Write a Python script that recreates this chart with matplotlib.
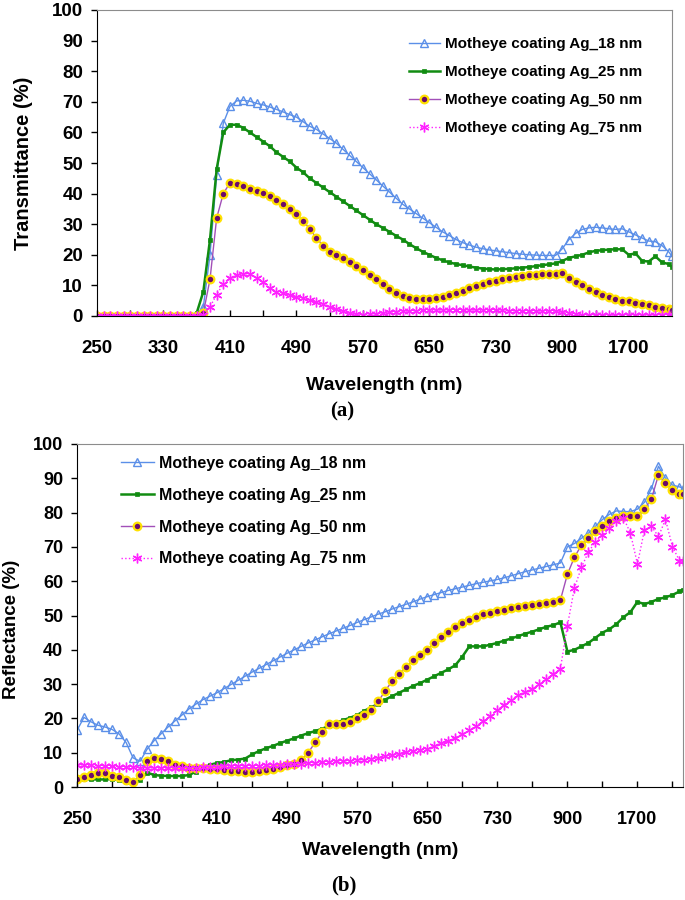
import numpy as np
import matplotlib
matplotlib.use("Agg")
import matplotlib.pyplot as plt

plt.rcParams['font.family'] = ['Liberation Sans', 'DejaVu Sans']

# ---------------- data ----------------
wavelength = np.concatenate([np.arange(250, 731, 8), np.arange(747, 901, 17),
                             np.arange(980, 1701, 80), [1780, 1860, 1940, 2020, 2100, 2180, 2220]])

labels = ["Motheye coating Ag_18 nm", "Motheye coating Ag_25 nm",
          "Motheye coating Ag_50 nm", "Motheye coating Ag_75 nm"]

trans_18 = [0]*16 + [3, 20, 46, 63, 68.5,
    70.3, 70.5, 70.2, 69.5, 69, 68.3, 67.5, 66.7, 65.8, 65,
    63.5, 62, 61, 59.5, 58, 56.5, 54.5, 52.5, 50.5, 48.5,
    46.5, 44.5, 42.5, 40.5, 38.5, 36.5, 35, 33.5, 32, 30.5,
    29, 27.5, 26.3, 25, 24, 23.2, 22.5, 22, 21.6, 21.3,
    21, 20.7, 20.4, 20.2, 20, 19.9, 19.8, 19.8, 19.8, 22,
    25, 27, 28.3, 28.8, 29, 28.8, 28.5, 28.3, 28.5, 27.5,
    26.5, 25.5, 24.5, 24.3, 23, 21, 19.5]
trans_25 = [0]*15 + [1, 8, 25, 48, 60, 62.5,
    62.5, 61.5, 60, 58.5, 57, 55.5, 53.5, 52, 50.5, 48.5,
    47, 45, 43.5, 42, 40.5, 39, 37.5, 36, 34.5, 33,
    31.5, 30, 28.8, 27.5, 26.2, 25, 23.5, 22.2, 21, 20,
    19, 18.2, 17.5, 17, 16.6, 16.2, 15.8, 15.5, 15.3, 15.2,
    15.3, 15.4, 15.6, 15.8, 16, 16.3, 16.6, 16.9, 17.2, 18,
    19, 19.5, 20, 20.8, 21.3, 21.5, 21.7, 21.8, 21.8, 20,
    20.5, 18, 17.8, 19.5, 17.5, 17, 16]
trans_50 = [0]*16 + [1, 12, 32, 40, 43.5,
    43.3, 42.5, 41.5, 41, 40.3, 39.3, 38, 36.5, 35, 33.3,
    31, 28.5, 25.5, 23, 21, 19.8, 18.8, 17.5, 16.2, 15,
    13.5, 12, 10.3, 8.8, 7.5, 6.5, 5.8, 5.5, 5.4, 5.5,
    5.8, 6.3, 6.8, 7.5, 8.3, 9, 9.8, 10.4, 11, 11.5,
    12, 12.4, 12.8, 13.1, 13.3, 13.5, 13.6, 13.7, 13.8, 14,
    12.3, 11, 10, 8.8, 7.8, 7, 6.2, 5.6, 5, 4.8,
    4.2, 3.8, 3.5, 3, 2.5, 2.2, 2]
trans_75 = [0]*16 + [0.3, 3, 7, 10.5, 12.5,
    13.5, 13.8, 13.8, 12.5, 11, 9, 8, 7.5, 7, 6.3,
    5.8, 5.3, 4.6, 3.8, 3, 2.2, 1.5, 0.9, 0.5, 0.4,
    0.6, 0.8, 1, 1.2, 1.4, 1.5, 1.6, 1.7, 1.8, 1.8,
    1.8, 1.9, 1.9, 1.9, 1.8, 1.8, 1.8, 1.9, 1.9, 1.8,
    1.8, 1.7, 1.7, 1.6, 1.6, 1.6, 1.6, 1.5, 1.5, 1.4,
    1, 0.7, 0.4, 0.3, 0.3, 0.3, 0.3, 0.3, 0.3, 0.3,
    0.3, 0.3, 0.3, 0.3, 0.3, 0.3, 0.3]

refl_18 = [16.5, 20.3, 19, 18, 17.5, 16.8, 15.5, 13, 8.5, 7.5, 11,
    13.5, 15.5, 17.5, 19.3, 21, 22.8, 24.2, 25.5, 26.5, 27.5,
    28.7, 29.9, 31.1, 32.3, 33.5, 34.6, 35.7, 36.8, 37.9, 39,
    40, 41, 42, 42.9, 43.8, 44.7, 45.5, 46.3, 47.1, 48,
    48.8, 49.6, 50.4, 51.1, 51.9, 52.6, 53.3, 54, 54.8, 55.5,
    56.1, 56.7, 57.3, 57.8, 58.3, 58.8, 59.3, 59.7, 60.1, 60.5,
    61, 61.6, 62.2, 62.8, 63.3, 63.8, 64.3, 64.8, 65.3, 70,
    71, 72.5, 74, 76, 78, 79.5, 80.5, 80.3, 80.3, 81,
    83, 87, 93.5, 90, 88, 87.5, 87]
refl_25 = [2.5, 2.3, 2.2, 2.2, 2.2, 2.3, 2, 1.5, 1.3, 2, 4.2,
    3.5, 3.3, 3.2, 3.2, 3.2, 3.5, 4.5, 5.5, 6.5, 7,
    7.3, 7.8, 8, 8.3, 9.5, 10.5, 11.3, 12, 12.8, 13.5,
    14.2, 15, 15.7, 16.3, 17, 17.8, 18.7, 19.5, 20.2, 21,
    22.2, 23.2, 24.3, 25.5, 26.5, 27.5, 28.5, 29.5, 30.3, 31.3,
    32.3, 33.3, 34.3, 35.5, 38, 41, 41, 41, 41.5, 42,
    42.7, 43.3, 44, 44.7, 45.3, 46, 46.7, 47.2, 48, 39.5,
    40, 41, 42, 43.5, 45, 46, 47.5, 49.5, 51, 54,
    53.3, 54, 54.8, 55.3, 56, 57, 57.5]
refl_50 = [2.2, 3, 3.5, 4, 4, 3.2, 2.8, 2, 1.5, 3.5, 7.5,
    8.5, 8.2, 7.5, 6.5, 6, 5.5, 5.5, 5.5, 5.3, 5.2,
    5, 4.8, 4.6, 4.4, 4.5, 4.7, 5, 5.3, 5.8, 6.3,
    6.8, 7.8, 10, 13, 16, 18.3, 18.5, 18.3, 19, 20,
    21, 22.5, 25, 28, 31, 33, 35, 37, 38.5, 40,
    42, 43.8, 45.3, 46.6, 47.8, 48.8, 49.6, 50.3, 50.8, 51.2,
    51.7, 52.1, 52.5, 52.8, 53.1, 53.4, 53.7, 53.9, 54.5, 62,
    67, 70.5, 72.5, 74.5, 76, 77.5, 78.5, 79, 79, 79,
    81, 84, 91, 88.5, 86.5, 85.5, 85.5]
refl_75 = [6.5, 6.4, 6.3, 6.2, 6.1, 6, 5.9, 5.8, 5.7, 5.6, 5.6,
    5.5, 5.5, 5.4, 5.4, 5.4, 5.5, 5.6, 5.7, 5.8, 5.9,
    6, 6, 6.1, 6.1, 6.2, 6.2, 6.3, 6.4, 6.5, 6.6,
    6.7, 6.8, 7.0, 7.1, 7.2, 7.4, 7.5, 7.6, 7.7, 7.8,
    8.0, 8.3, 8.6, 8.9, 9.3, 9.7, 10.1, 10.5, 10.8, 11.2,
    11.9, 12.7, 13.5, 14.4, 15.4, 16.5, 17.8, 19.2, 20.8, 22.5,
    24, 25.5, 26.8, 27.8, 28.7, 30, 31.5, 33, 34.5, 47,
    58, 64, 68.5, 71.5, 73.5, 75.5, 77.5, 78.5, 74, 65,
    75, 76, 73, 78, 70, 66, 66]

tick_nm = [250, 330, 410, 490, 570, 650, 730, 900, 1700]
# category-axis breakpoints (wavelength -> category position)
axis_nm = [250, 730, 900, 1700, 2500]
axis_pos = [0, 6, 7, 8, 9]

# ---------------- styles ----------------
styles = [
    dict(color='#5B8FE8', marker='^', ms=6, mfc='none', mec='#5B8FE8', mew=1.0, lw=1.0, ls='-'),
    dict(color='#118C11', marker='s', ms=3.2, mfc='#118C11', mec='#118C11', mew=0.5, lw=1.8, ls='-'),
    dict(color='#A24FB8', marker='o', ms=5.5, mfc='#6B0A6B', mec='#FFE100', mew=1.6, lw=1.0, ls='-'),
    dict(color='#FF22FF', marker=(6, 2, 0), ms=7, mfc='#FF22FF', mec='#FF22FF', mew=1.0, lw=1.0, ls=':'),
]

def fwd(x):
    return np.interp(x, axis_nm, axis_pos)

def inv(p):
    return np.interp(p, axis_pos, axis_nm)

fig = plt.figure(figsize=(6.85, 9.0), dpi=100)
ax1 = fig.add_axes([97/685, 1-316/900, (672-97)/685, (316-10)/900])
ax2 = fig.add_axes([77/685, 1-787/900, (683-77)/685, (787-444)/900])

panels = [
    (ax1, [trans_18, trans_25, trans_50, trans_75], "Transmittance (%)", 13.5, 14.5),
    (ax2, [refl_18, refl_25, refl_50, refl_75], "Reflectance (%)", 13, 13.5),
]

for ax, series, ylab, fs, yfs in panels:
    ax.set_xscale('function', functions=(fwd, inv))
    for vals, lab, st in zip(series, labels, styles):
        ax.plot(wavelength, vals, label=lab, **st)
    ax.set_xlim(wavelength[0], wavelength[-1])
    ax.set_ylim(0, 100)
    ax.set_xticks(tick_nm)
    ax.set_xticklabels([str(t) for t in tick_nm])
    ax.set_xticks(inv(np.arange(0.5, 8.6, 1.0)), minor=True)
    ax.set_yticks(np.arange(0, 101, 10))
    ax.tick_params(axis='x', which='both', direction='in', length=4, width=1,
                   pad=17, labelsize=fs)
    ax.tick_params(axis='y', which='major', direction='out', length=4, width=1,
                   pad=6, labelsize=fs)
    for lbl in ax.get_xticklabels() + ax.get_yticklabels():
        lbl.set_fontweight('bold')
    ax.spines['top'].set_color('#8c8c8c')
    ax.spines['right'].set_color('#8c8c8c')
    ax.spines['left'].set_color('black')
    ax.spines['bottom'].set_color('black')
    ax.set_xlabel("Wavelength (nm)", fontsize=14, fontweight='bold')
    ax.set_ylabel(ylab, fontsize=yfs, fontweight='bold')

ax1.xaxis.set_label_coords(0.5, -0.2)
ax1.yaxis.set_label_coords(-0.111, 0.5)
ax2.xaxis.set_label_coords(0.5, -0.16)
ax2.yaxis.set_label_coords(-0.094, 0.46)

leg1 = ax1.legend(loc='upper left', bbox_to_anchor=((409-97)/575, (316-37)/306),
                  frameon=False, borderpad=0, borderaxespad=0, handlelength=2.0,
                  handletextpad=0.35, labelspacing=0.92,
                  prop={'size': 11, 'weight': 'bold'}, markerscale=1.0)
leg2 = ax2.legend(loc='upper left', bbox_to_anchor=((121-77)/606, (787-456)/343),
                  frameon=False, borderpad=0, borderaxespad=0, handlelength=2.05,
                  handletextpad=0.35, labelspacing=1.05,
                  prop={'size': 11.5, 'weight': 'bold'}, markerscale=1.0)
for leg in (leg1, leg2):
    for h in leg.legend_handles:
        h.set_markevery([1])

fig.text(342/685, 1-411/900, "(a)", ha='center', va='center', fontsize=15,
         fontweight='bold', family=['Liberation Serif', 'DejaVu Serif'])
fig.text(344/685, 1-885/900, "(b)", ha='center', va='center', fontsize=15,
         fontweight='bold', family=['Liberation Serif', 'DejaVu Serif'])

fig.savefig("out.png", dpi=100)
